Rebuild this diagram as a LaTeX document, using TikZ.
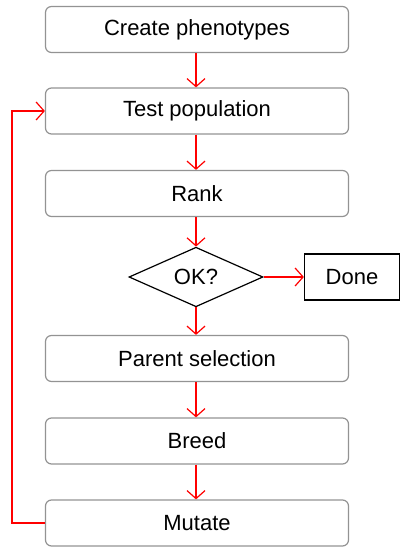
\documentclass[tikz,border=0pt]{standalone}
\usepackage{fontspec}
\setmainfont{Liberation Sans}
\usetikzlibrary{shapes.geometric,arrows.meta}
\begin{document}
\begin{tikzpicture}[x = 1pt, y = -1pt,
		stepbox/.style = {draw = gray!85, rounded corners = 6pt, line width = 1.2pt, minimum width = 303pt, minimum height = 46pt, font = \fontsize{22}{26}\selectfont},
		flow/.style = {draw = red, line width = 1.2pt, -{Straight Barb[length = 8pt, width = 18pt]}}]
		\useasboundingbox (0, 0) rectangle (402, 548);
		\node[stepbox] (create) at (197, 29.5) {Create phenotypes};
		\node[stepbox] (test) at (197, 111) {Test population};
		\node[stepbox] (rank) at (197, 193.5) {Rank};
		\node[draw, diamond, line width = 1.2pt, inner sep = 0pt, minimum width = 134pt, minimum height = 48pt, font = \fontsize{22}{26}\selectfont] (ok) at (196, 277) {OK?};
		\node[draw, line width = 1.2pt, minimum width = 95pt, minimum height = 46pt, font = \fontsize{22}{26}\selectfont] (done) at (352, 277) {Done};
		\node[stepbox] (parent) at (197, 358.5) {Parent selection};
		\node[stepbox] (breed) at (197, 441) {Breed};
		\node[stepbox] (mutate) at (197, 523) {Mutate};
		% main flow
		\draw[flow] (create.south -| ok.north) -- (test.north -| ok.north);
		\draw[flow] (test.south -| ok.north) -- (rank.north -| ok.north);
		\draw[flow] (rank.south -| ok.north) -- (ok.north);
		\draw[flow] (ok.east) -- (done.west);
		\draw[flow] (ok.south) -- (parent.north -| ok.south);
		\draw[flow] (parent.south -| ok.south) -- (breed.north -| ok.south);
		\draw[flow] (breed.south -| ok.south) -- (mutate.north -| ok.south);
		% loop back
		\draw[flow] (mutate.west) -- ++(-33, 0) |- (test.west);
	\end{tikzpicture}
\end{document}
